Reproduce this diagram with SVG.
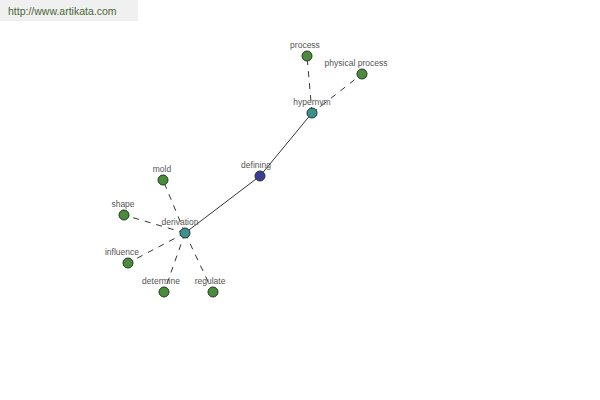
<svg xmlns="http://www.w3.org/2000/svg" width="600" height="400" viewBox="0 0 600 400">
<style>
.lbl{font-family:"Liberation Sans",Arial,sans-serif;font-size:8.5px;fill:#555;text-anchor:middle}
.n{stroke:#1f3a1f;stroke-width:1}
.g{fill:#4b8b3b}
.t{fill:#3c9090}
.b{fill:#3c3c98}
.s{stroke:#000;stroke-width:0.8;fill:none}
.d{stroke:#000;stroke-width:0.8;fill:none;stroke-dasharray:6 6}
</style>
<rect x="0" y="0" width="138" height="21" fill="#f0f0f0"/>
<text x="8" y="15" font-family="'Liberation Sans',Arial,sans-serif" font-size="10.5" fill="#4a6638">http://www.artikata.com</text>
<g id="connectors">
<line class="d" x1="312" y1="113" x2="307" y2="56"/>
<line class="d" x1="312" y1="113" x2="362" y2="74"/>
<line class="s" x1="312" y1="113" x2="260" y2="176"/>
<line class="s" x1="260" y1="176" x2="185" y2="233"/>
<line class="d" x1="185" y1="233" x2="163" y2="180"/>
<line class="d" x1="185" y1="233" x2="124" y2="215"/>
<line class="d" x1="185" y1="233" x2="128" y2="263"/>
<line class="d" x1="185" y1="233" x2="164" y2="292"/>
<line class="d" x1="185" y1="233" x2="213" y2="292"/>
</g>
<g id="process"><circle class="n g" cx="307" cy="56" r="5"/><text class="lbl" x="305" y="48">process</text></g>
<g id="physical-process"><circle class="n g" cx="362" cy="74" r="5"/><text class="lbl" x="356" y="66">physical process</text></g>
<g id="hypernym"><circle class="n t" cx="312" cy="113" r="5"/><text class="lbl" x="312" y="105">hypernym</text></g>
<g id="defining"><circle class="n b" cx="260" cy="176" r="5"/><text class="lbl" x="256" y="168">defining</text></g>
<g id="derivation"><circle class="n t" cx="185" cy="233" r="5"/><text class="lbl" x="180" y="225">derivation</text></g>
<g id="mold"><circle class="n g" cx="163" cy="180" r="5"/><text class="lbl" x="162" y="172">mold</text></g>
<g id="shape"><circle class="n g" cx="124" cy="215" r="5"/><text class="lbl" x="123" y="207">shape</text></g>
<g id="influence"><circle class="n g" cx="128" cy="263" r="5"/><text class="lbl" x="122" y="255">influence</text></g>
<g id="determine"><circle class="n g" cx="164" cy="292" r="5"/><text class="lbl" x="161" y="284">determine</text></g>
<g id="regulate"><circle class="n g" cx="213" cy="292" r="5"/><text class="lbl" x="210" y="284">regulate</text></g>
</svg>
